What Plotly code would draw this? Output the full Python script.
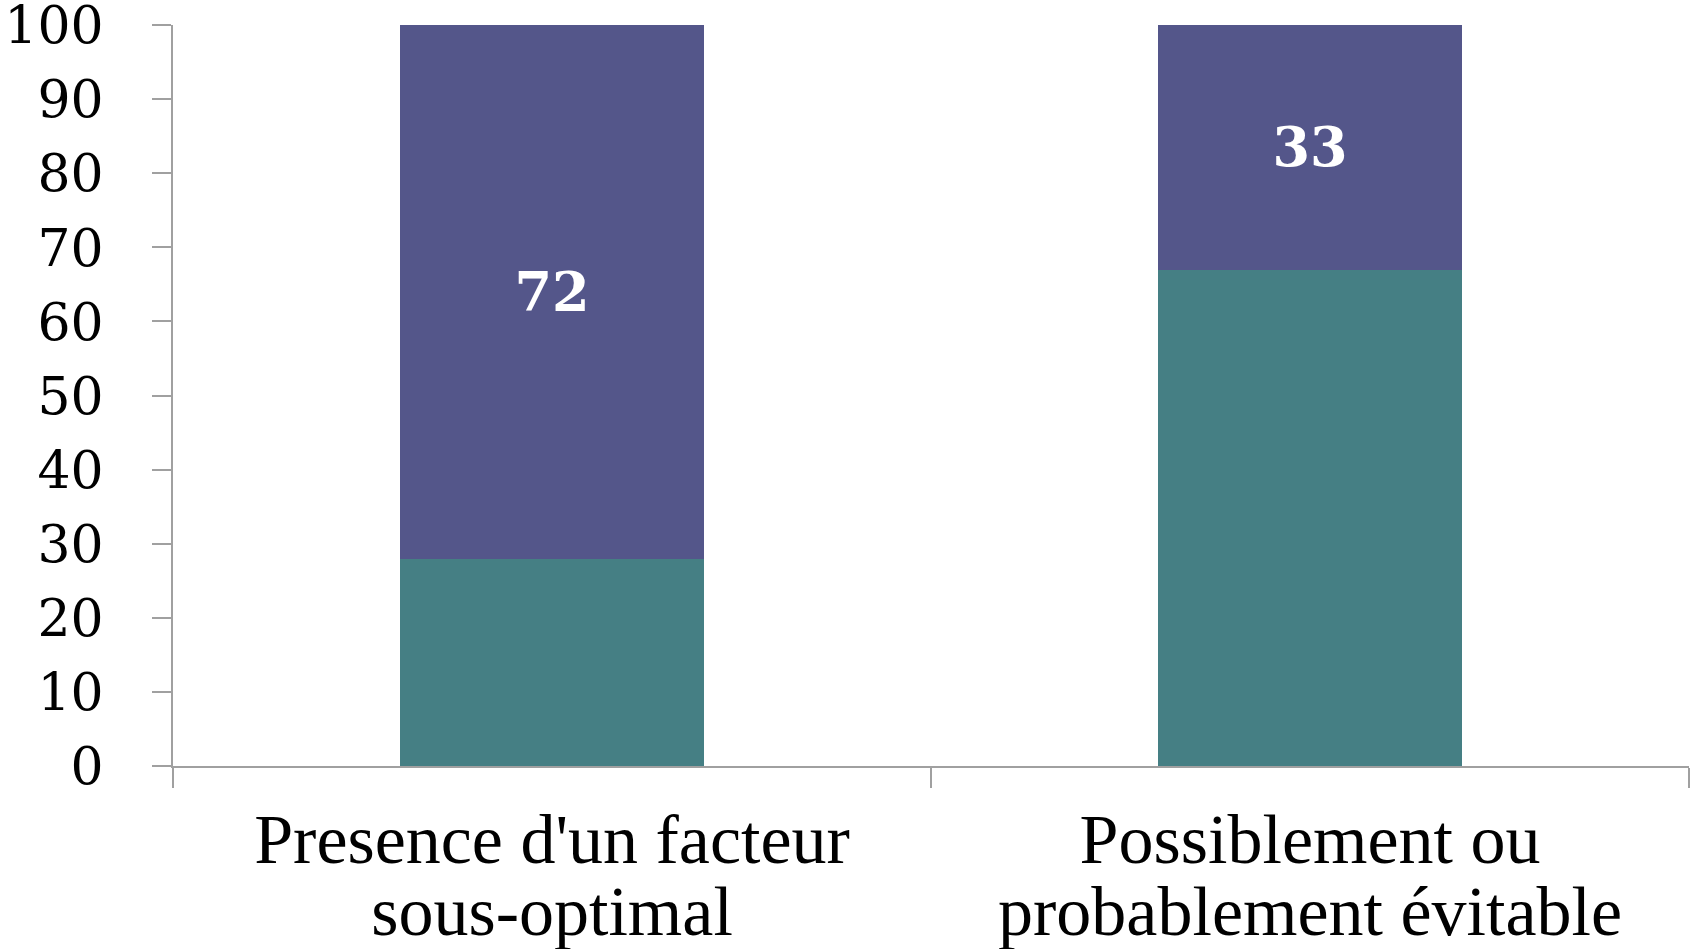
import plotly.graph_objects as go

categories = [["Presence d'un facteur", "sous-optimal"],
              ["Possiblement ou", "probablement évitable"]]
teal_values = [28, 67]
purple_values = [72, 33]
y_ticks = [0, 10, 20, 30, 40, 50, 60, 70, 80, 90, 100]

TEAL = "#457F84"
PURPLE = "#54568A"
AXIS = "#A0A0A0"

cat_keys = [" ".join(c) for c in categories]
cat_text = ["<br>".join("<span style='font-size:70px'>%s</span>" % line for line in c)
            for c in categories]

fig = go.Figure()
fig.add_trace(go.Bar(x=cat_keys, y=teal_values, marker=dict(color=TEAL, line=dict(width=0)),
                     hoverinfo="skip", showlegend=False))
fig.add_trace(go.Bar(x=cat_keys, y=purple_values, marker=dict(color=PURPLE, line=dict(width=0)),
                     text=[str(v) for v in purple_values], textposition="inside",
                     insidetextanchor="middle",
                     textfont=dict(family="DejaVu Serif", size=54, color="white", weight="bold"),
                     hoverinfo="skip", showlegend=False))

fig.update_layout(
    barmode="stack",
    bargap=0.6,
    width=1692, height=949,
    margin=dict(l=173, r=3, t=25, b=183),
    plot_bgcolor="white", paper_bgcolor="white",
    uniformtext=dict(mode=False),
)
fig.update_xaxes(
    tickvals=cat_keys, ticktext=cat_text, automargin=False,
    showline=True, linecolor=AXIS, linewidth=2,
    ticks="outside", tickson="boundaries", ticklen=20, tickcolor=AXIS, tickwidth=2,
    tickfont=dict(family="Liberation Serif", size=55, color="black"),
    ticklabelstandoff=29,
    showgrid=False, zeroline=False,
)
fig.update_yaxes(
    range=[0, 100], tickvals=y_ticks, automargin=False,
    showline=True, linecolor=AXIS, linewidth=2,
    ticks="outside", ticklen=19, tickcolor=AXIS, tickwidth=2,
    tickfont=dict(family="DejaVu Serif", size=52, color="black"),
    ticklabelstandoff=38, ticklabeloverflow="allow",
    showgrid=False, zeroline=False,
)

fig.write_html("out.html")
